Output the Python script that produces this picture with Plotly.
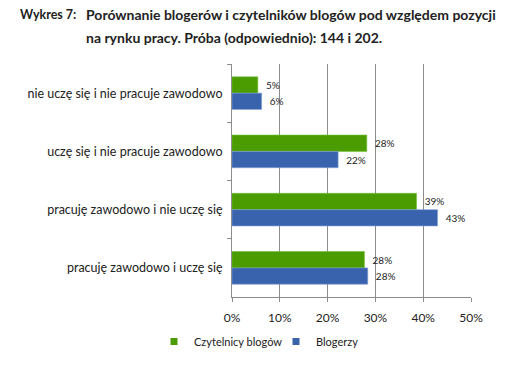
import plotly.graph_objects as go

categories = [
    "nie uczę się i nie pracuje zawodowo",
    "uczę się i nie pracuje zawodowo",
    "pracuję zawodowo i nie uczę się",
    "pracuję zawodowo i uczę się",
]
czytelnicy = [5.4, 28.2, 38.6, 27.7]
blogerzy = [6.2, 22.2, 43.0, 28.4]
x_ticks = [0, 10, 20, 30, 40, 50]
x_tick_labels = ["0%", "10%", "20%", "30%", "40%", "50%"]

GREEN = "#4a9c00"
BLUE = "#3a63ae"
FONT = "Lato"
W, H = 519, 373
L, R, T, B = 232, 48, 64, 76
PW, PH = W - L - R, H - T - B


def px_x(x):
    return (x - L) / PW


def px_y(y):
    return 1 - (y - T) / PH


fig = go.Figure()
fig.add_trace(go.Bar(
    y=categories, x=czytelnicy, orientation="h", name="Czytelnicy blogów",
    marker=dict(color=GREEN, line=dict(color="#6fbf30", width=0.6)),
    texttemplate="\u00a0\u00a0%{x:.0f}%", textposition="outside",
    textfont=dict(size=10, color="#222", family=FONT), cliponaxis=False,
    showlegend=False,
))
fig.add_trace(go.Bar(
    y=categories, x=blogerzy, orientation="h", name="Blogerzy",
    marker=dict(color=BLUE, line=dict(color="#7f9fd6", width=0.6)),
    texttemplate="\u00a0\u00a0%{x:.0f}%", textposition="outside",
    textfont=dict(size=10, color="#222", family=FONT), cliponaxis=False,
    showlegend=False,
))
# legend entries with small square symbols
fig.add_trace(go.Scatter(x=[None], y=[None], mode="markers", name="Czytelnicy blogów",
                         marker=dict(symbol="square", size=7, color=GREEN)))
fig.add_trace(go.Scatter(x=[None], y=[None], mode="markers", name="Blogerzy",
                         marker=dict(symbol="square", size=7, color=BLUE)))

fig.update_layout(
    width=W, height=H,
    margin=dict(l=L, r=R, t=T, b=B, autoexpand=False),
    paper_bgcolor="white", plot_bgcolor="white",
    barmode="group", bargap=0.44, bargroupgap=0,
    font=dict(family=FONT, size=12, color="#222"),
    showlegend=True,
    legend=dict(orientation="h", x=px_x(154), xanchor="left", y=px_y(327), yanchor="top",
                font=dict(size=11, family=FONT), traceorder="normal",
                itemwidth=30, tracegroupgap=0, entrywidth=77),
    xaxis=dict(range=[0, 50], tickvals=x_ticks, ticktext=x_tick_labels,
               showgrid=True, gridcolor="#8c8c8c", gridwidth=1,
               showline=True, linecolor="#8c8c8c", ticks="outside", ticklen=4,
               tickcolor="#8c8c8c", zeroline=False, tickfont=dict(size=12),
               ticklabelstandoff=6),
    yaxis=dict(autorange="reversed", showline=True, linecolor="#8c8c8c",
               ticks="outside", ticklen=4, tickcolor="#8c8c8c", tickson="boundaries",
               showgrid=False, tickfont=dict(size=12.5), ticklabelstandoff=6),
    annotations=[
        dict(text="<b>Wykres 7:</b>", x=px_x(18), y=px_y(15), xref="paper", yref="paper",
             showarrow=False, xanchor="left", yanchor="middle", font=dict(size=12.5, family=FONT)),
        dict(text="<b>Porównanie blogerów i czytelników blogów pod względem pozycji</b>",
             x=px_x(84), y=px_y(15), xref="paper", yref="paper",
             showarrow=False, xanchor="left", yanchor="middle",
             font=dict(size=14, family=FONT)),
        dict(text="<b>na rynku pracy. Próba (odpowiednio): 144 i 202.</b>",
             x=px_x(84), y=px_y(38), xref="paper", yref="paper",
             showarrow=False, xanchor="left", yanchor="middle",
             font=dict(size=14, family=FONT)),
    ],
)

fig.write_html("out.html", config={"displayModeBar": False},
               post_script="document.body.style.margin='0';")
